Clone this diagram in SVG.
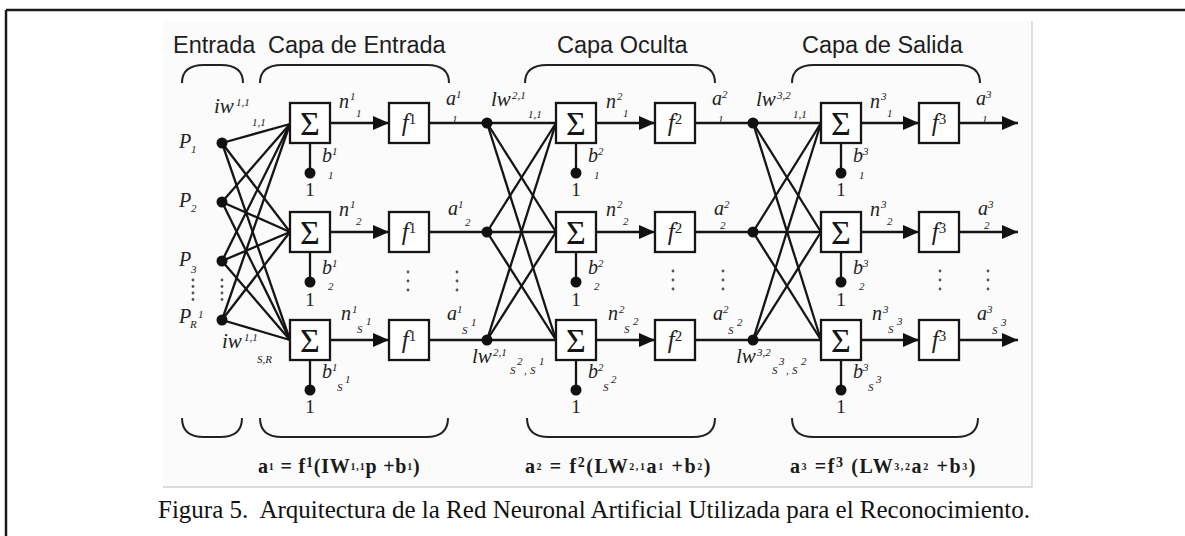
<svg xmlns="http://www.w3.org/2000/svg" width="1185" height="536" viewBox="0 0 1185 536">
<defs>
<style>
.frame{stroke:#1a1a1a;stroke-width:2.5;fill:none}
.imgb{stroke:#d2d2d2;stroke-width:1.3;fill:none}
.ln{stroke:#151515;stroke-width:2.3;fill:none}
.br{stroke:#222;stroke-width:2;fill:none}
.box{fill:#fff;stroke:#151515;stroke-width:2.3}
.dot{fill:#111}
.ed{fill:#555}
.ttl{font-family:"Liberation Sans",Arial,sans-serif;font-size:23.5px;fill:#1e1e1e}
.it{font-family:"Liberation Serif","Times New Roman",serif;font-style:italic;font-size:20px;fill:#222}
.w{font-size:21px}
.ix{font-family:"Liberation Serif","Times New Roman",serif;font-style:italic;font-size:11px;fill:#222}
.one{font-family:"Liberation Serif","Times New Roman",serif;font-size:19px;fill:#222;text-anchor:middle}
.sig{font-family:"Liberation Serif","DejaVu Serif",serif;font-size:34px;fill:#151515;text-anchor:middle}
.fn{font-family:"Liberation Serif","Times New Roman",serif;font-style:italic;font-size:25px;fill:#222;text-anchor:middle}
.fx{font-family:"Liberation Serif","Times New Roman",serif;font-weight:bold;font-size:20px;fill:#1a1a1a;white-space:pre}
.cap{font-family:"Liberation Serif","Times New Roman",serif;font-size:25px;fill:#111;white-space:pre}
</style>
<marker id="ah" markerUnits="userSpaceOnUse" markerWidth="17" markerHeight="14" refX="16" refY="7" orient="auto"><path d="M0,0 L16,7 L0,14 z" fill="#111"/></marker>
</defs>

<!-- frame -->
<g id="frame">
<line class="frame" x1="6" y1="10" x2="1185" y2="10"/>
<line class="frame" x1="6" y1="10" x2="6" y2="536"/>
<rect x="163" y="21" width="869" height="466" fill="#fbfbfb"/>
<polyline class="imgb" points="1032,21 1032,487 163,487"/>
</g>

<!-- titles -->
<g id="titles">
<text class="ttl" x="173" y="53">Entrada</text>
<text class="ttl" x="268" y="53">Capa de Entrada</text>
<text class="ttl" x="557" y="53">Capa Oculta</text>
<text class="ttl" x="802" y="53">Capa de Salida</text>
</g>

<!-- brackets -->
<g id="brackets">
<path class="br" d="M182,83 C182,72 188,65 204,65 H221 C237,65 243,72 243,83"/>
<path class="br" d="M260,83 C260,72 266,65 282,65 H427 C443,65 449,72 449,83"/>
<path class="br" d="M525,83 C525,72 531,65 547,65 H693 C709,65 715,72 715,83"/>
<path class="br" d="M792,83 C792,72 798,65 814,65 H958 C974,65 980,72 980,83"/>
<path class="br" d="M182,418 C182,429 188,437 204,437 H220 C236,437 242,429 242,418"/>
<path class="br" d="M260,418 C260,429 266,437 282,437 H426 C442,437 448,429 448,418"/>
<path class="br" d="M527,418 C527,429 533,437 549,437 H693 C709,437 715,429 715,418"/>
<path class="br" d="M792,418 C792,429 798,437 814,437 H956 C972,437 978,429 978,418"/>
</g>

<!-- connectors -->
<g id="connectors">
<line class="ln" x1="222" y1="143" x2="290" y2="124"/>
<line class="ln" x1="222" y1="143" x2="290" y2="232"/>
<line class="ln" x1="222" y1="143" x2="290" y2="340"/>
<line class="ln" x1="222" y1="202" x2="290" y2="124"/>
<line class="ln" x1="222" y1="202" x2="290" y2="232"/>
<line class="ln" x1="222" y1="202" x2="290" y2="340"/>
<line class="ln" x1="222" y1="261" x2="290" y2="124"/>
<line class="ln" x1="222" y1="261" x2="290" y2="232"/>
<line class="ln" x1="222" y1="261" x2="290" y2="340"/>
<line class="ln" x1="222" y1="320" x2="290" y2="124"/>
<line class="ln" x1="222" y1="320" x2="290" y2="232"/>
<line class="ln" x1="222" y1="320" x2="290" y2="340"/>
<line class="ln" x1="330" y1="123" x2="389" y2="123" marker-end="url(#ah)"/>
<line class="ln" x1="330" y1="232" x2="389" y2="232" marker-end="url(#ah)"/>
<line class="ln" x1="330" y1="340" x2="389" y2="340" marker-end="url(#ah)"/>
<line class="ln" x1="429" y1="123" x2="487" y2="123"/>
<line class="ln" x1="429" y1="232" x2="487" y2="232"/>
<line class="ln" x1="429" y1="340" x2="487" y2="340"/>
<line class="ln" x1="310" y1="143" x2="310" y2="173"/>
<line class="ln" x1="310" y1="252" x2="310" y2="282"/>
<line class="ln" x1="310" y1="360" x2="310" y2="390"/>
<line class="ln" x1="487" y1="123" x2="556" y2="123"/>
<line class="ln" x1="487" y1="123" x2="556" y2="232"/>
<line class="ln" x1="487" y1="123" x2="556" y2="340"/>
<line class="ln" x1="487" y1="232" x2="556" y2="123"/>
<line class="ln" x1="487" y1="232" x2="556" y2="232"/>
<line class="ln" x1="487" y1="232" x2="556" y2="340"/>
<line class="ln" x1="487" y1="340" x2="556" y2="123"/>
<line class="ln" x1="487" y1="340" x2="556" y2="232"/>
<line class="ln" x1="487" y1="340" x2="556" y2="340"/>
<line class="ln" x1="596" y1="123" x2="655" y2="123" marker-end="url(#ah)"/>
<line class="ln" x1="596" y1="232" x2="655" y2="232" marker-end="url(#ah)"/>
<line class="ln" x1="596" y1="340" x2="655" y2="340" marker-end="url(#ah)"/>
<line class="ln" x1="695" y1="123" x2="753" y2="123"/>
<line class="ln" x1="695" y1="232" x2="753" y2="232"/>
<line class="ln" x1="695" y1="340" x2="753" y2="340"/>
<line class="ln" x1="576" y1="143" x2="576" y2="173"/>
<line class="ln" x1="576" y1="252" x2="576" y2="282"/>
<line class="ln" x1="576" y1="360" x2="576" y2="390"/>
<line class="ln" x1="753" y1="123" x2="821" y2="123"/>
<line class="ln" x1="753" y1="123" x2="821" y2="232"/>
<line class="ln" x1="753" y1="123" x2="821" y2="340"/>
<line class="ln" x1="753" y1="232" x2="821" y2="123"/>
<line class="ln" x1="753" y1="232" x2="821" y2="232"/>
<line class="ln" x1="753" y1="232" x2="821" y2="340"/>
<line class="ln" x1="753" y1="340" x2="821" y2="123"/>
<line class="ln" x1="753" y1="340" x2="821" y2="232"/>
<line class="ln" x1="753" y1="340" x2="821" y2="340"/>
<line class="ln" x1="861" y1="123" x2="919" y2="123" marker-end="url(#ah)"/>
<line class="ln" x1="861" y1="232" x2="919" y2="232" marker-end="url(#ah)"/>
<line class="ln" x1="861" y1="340" x2="919" y2="340" marker-end="url(#ah)"/>
<line class="ln" x1="959" y1="123" x2="1018" y2="123" marker-end="url(#ah)"/>
<line class="ln" x1="959" y1="232" x2="1018" y2="232" marker-end="url(#ah)"/>
<line class="ln" x1="959" y1="340" x2="1018" y2="340" marker-end="url(#ah)"/>
<line class="ln" x1="841" y1="143" x2="841" y2="173"/>
<line class="ln" x1="841" y1="252" x2="841" y2="282"/>
<line class="ln" x1="841" y1="360" x2="841" y2="390"/>
</g>

<!-- weight labels -->
<g id="weights">
<text class="it w" x="214" y="113">iw</text><text class="ix" x="236" y="106">1,1</text><text class="ix" x="252" y="126">1,1</text>
<text class="it w" x="222" y="348">iw</text><text class="ix" x="244" y="341">1,1</text><text class="ix" x="257" y="363">S,R</text>
<text class="it w" x="491" y="106">lw</text><text class="ix" x="512" y="99">2,1</text><text class="ix" x="528" y="118">1,1</text>
<text class="it w" x="472" y="363">lw</text><text class="ix" x="493" y="356">2,1</text><text class="ix" x="510" y="374">S</text><text class="ix" x="517" y="365">2</text><text class="ix" x="524" y="374">,</text><text class="ix" x="530" y="374">S</text><text class="ix" x="539" y="365">1</text>
<text class="it w" x="756" y="106">lw</text><text class="ix" x="777" y="99">3,2</text><text class="ix" x="793" y="118">1,1</text>
<text class="it w" x="736" y="363">lw</text><text class="ix" x="757" y="356">3,2</text><text class="ix" x="772" y="374">S</text><text class="ix" x="779" y="365">3</text><text class="ix" x="786" y="374">,</text><text class="ix" x="792" y="374">S</text><text class="ix" x="801" y="365">2</text>
</g>

<!-- inputs -->
<g id="input-p1"><circle class="dot" cx="222" cy="143" r="5.5"/><text class="it" x="179" y="148">P</text><text class="ix" x="191" y="153">1</text></g>
<g id="input-p2"><circle class="dot" cx="222" cy="202" r="5.5"/><text class="it" x="179" y="207">P</text><text class="ix" x="191" y="212">2</text></g>
<g id="input-p3"><circle class="dot" cx="222" cy="261" r="5.5"/><text class="it" x="179" y="266">P</text><text class="ix" x="191" y="273">3</text></g>
<g id="input-pR"><circle class="dot" cx="222" cy="320" r="5.5"/><text class="it" x="179" y="323">P</text><text class="ix" x="190" y="328">R</text><text class="ix" x="198" y="318">1</text></g>

<!-- ellipses -->
<g id="ellipses">
<circle class="ed" cx="193" cy="280" r="1.4"/><circle class="ed" cx="193" cy="286.5" r="1.4"/><circle class="ed" cx="193" cy="293" r="1.4"/><circle class="ed" cx="193" cy="299.5" r="1.4"/>
<circle class="ed" cx="222" cy="280" r="1.4"/><circle class="ed" cx="222" cy="286.5" r="1.4"/><circle class="ed" cx="222" cy="293" r="1.4"/><circle class="ed" cx="222" cy="299.5" r="1.4"/>
<circle class="ed" cx="408" cy="272" r="1.4"/><circle class="ed" cx="408" cy="281" r="1.4"/><circle class="ed" cx="408" cy="290" r="1.4"/>
<circle class="ed" cx="457" cy="272" r="1.4"/><circle class="ed" cx="457" cy="281" r="1.4"/><circle class="ed" cx="457" cy="290" r="1.4"/>
<circle class="ed" cx="673" cy="271" r="1.4"/><circle class="ed" cx="673" cy="280" r="1.4"/><circle class="ed" cx="673" cy="289" r="1.4"/>
<circle class="ed" cx="723" cy="271" r="1.4"/><circle class="ed" cx="723" cy="280" r="1.4"/><circle class="ed" cx="723" cy="289" r="1.4"/>
<circle class="ed" cx="940" cy="271" r="1.4"/><circle class="ed" cx="940" cy="280" r="1.4"/><circle class="ed" cx="940" cy="289" r="1.4"/>
<circle class="ed" cx="988" cy="271" r="1.4"/><circle class="ed" cx="988" cy="280" r="1.4"/><circle class="ed" cx="988" cy="289" r="1.4"/>
</g>

<!-- layer 1 -->
<g id="sum1-1"><rect class="box" x="290" y="103" width="40" height="40"/><text class="sig" x="310" y="135">Σ</text>
<text class="it" x="339" y="108">n</text><text class="ix" x="350" y="100">1</text><text class="ix" x="356" y="117">1</text></g>
<g id="sum1-2"><rect class="box" x="290" y="212" width="40" height="40"/><text class="sig" x="310" y="244">Σ</text>
<text class="it" x="339" y="216">n</text><text class="ix" x="350" y="208">1</text><text class="ix" x="356" y="225">2</text></g>
<g id="sum1-3"><rect class="box" x="290" y="320" width="40" height="40"/><text class="sig" x="310" y="352">Σ</text>
<text class="it" x="341" y="320">n</text><text class="ix" x="352" y="313">1</text><text class="ix" x="357" y="333">S</text><text class="ix" x="366" y="325">1</text></g>
<g id="bias1-1"><circle class="dot" cx="310" cy="173" r="5.5"/><text class="one" x="310" y="196">1</text>
<text class="it" x="322" y="162">b</text><text class="ix" x="332" y="155">1</text><text class="ix" x="328" y="179">1</text></g>
<g id="bias1-2"><circle class="dot" cx="310" cy="282" r="5.5"/><text class="one" x="310" y="306">1</text>
<text class="it" x="322" y="274">b</text><text class="ix" x="332" y="267">1</text><text class="ix" x="328" y="290">2</text></g>
<g id="bias1-3"><circle class="dot" cx="310" cy="390" r="5.5"/><text class="one" x="310" y="413">1</text>
<text class="it" x="322" y="378">b</text><text class="ix" x="332" y="371">1</text><text class="ix" x="337" y="391">S</text><text class="ix" x="345" y="383">1</text></g>
<g id="f1-1"><rect class="box" x="389" y="103" width="40" height="40"/><text class="fn" x="409" y="131">f<tspan font-size="15" font-style="normal" dy="-7">1</tspan></text>
<text class="it" x="446" y="105">a</text><text class="ix" x="456" y="98">1</text><text class="ix" x="452" y="123">1</text></g>
<g id="f1-2"><rect class="box" x="389" y="212" width="40" height="40"/><text class="fn" x="409" y="240">f<tspan font-size="15" font-style="normal" dy="-7">1</tspan></text>
<text class="it" x="448" y="215">a</text><text class="ix" x="458" y="208">1</text><text class="ix" x="465" y="226">2</text></g>
<g id="f1-3"><rect class="box" x="389" y="320" width="40" height="40"/><text class="fn" x="409" y="348">f<tspan font-size="15" font-style="normal" dy="-7">1</tspan></text>
<text class="it" x="447" y="320">a</text><text class="ix" x="457" y="313">1</text><text class="ix" x="462" y="334">S</text><text class="ix" x="471" y="326">1</text></g>

<!-- layer 2 nodes -->
<g id="in2-1"><circle class="dot" cx="487" cy="123" r="5.5"/></g>
<g id="in2-2"><circle class="dot" cx="487" cy="232" r="5.5"/></g>
<g id="in2-3"><circle class="dot" cx="487" cy="340" r="5.5"/></g>
<g id="sum2-1"><rect class="box" x="556" y="103" width="40" height="40"/><text class="sig" x="576" y="135">Σ</text>
<text class="it" x="606" y="108">n</text><text class="ix" x="617" y="100">2</text><text class="ix" x="623" y="117">1</text></g>
<g id="sum2-2"><rect class="box" x="556" y="212" width="40" height="40"/><text class="sig" x="576" y="244">Σ</text>
<text class="it" x="606" y="216">n</text><text class="ix" x="617" y="208">2</text><text class="ix" x="623" y="225">2</text></g>
<g id="sum2-3"><rect class="box" x="556" y="320" width="40" height="40"/><text class="sig" x="576" y="352">Σ</text>
<text class="it" x="608" y="320">n</text><text class="ix" x="619" y="313">2</text><text class="ix" x="624" y="333">S</text><text class="ix" x="633" y="325">2</text></g>
<g id="bias2-1"><circle class="dot" cx="576" cy="173" r="5.5"/><text class="one" x="576" y="196">1</text>
<text class="it" x="588" y="162">b</text><text class="ix" x="598" y="155">2</text><text class="ix" x="594" y="179">1</text></g>
<g id="bias2-2"><circle class="dot" cx="576" cy="282" r="5.5"/><text class="one" x="576" y="306">1</text>
<text class="it" x="588" y="274">b</text><text class="ix" x="598" y="267">2</text><text class="ix" x="594" y="290">2</text></g>
<g id="bias2-3"><circle class="dot" cx="576" cy="390" r="5.5"/><text class="one" x="576" y="413">1</text>
<text class="it" x="588" y="378">b</text><text class="ix" x="598" y="371">2</text><text class="ix" x="603" y="391">S</text><text class="ix" x="611" y="383">2</text></g>
<g id="f2-1"><rect class="box" x="655" y="103" width="40" height="40"/><text class="fn" x="675" y="131">f<tspan font-size="15" font-style="normal" dy="-7">2</tspan></text>
<text class="it" x="712" y="105">a</text><text class="ix" x="722" y="98">2</text><text class="ix" x="718" y="123">1</text></g>
<g id="f2-2"><rect class="box" x="655" y="212" width="40" height="40"/><text class="fn" x="675" y="240">f<tspan font-size="15" font-style="normal" dy="-7">2</tspan></text>
<text class="it" x="714" y="215">a</text><text class="ix" x="724" y="208">2</text><text class="ix" x="720" y="229">2</text></g>
<g id="f2-3"><rect class="box" x="655" y="320" width="40" height="40"/><text class="fn" x="675" y="348">f<tspan font-size="15" font-style="normal" dy="-7">2</tspan></text>
<text class="it" x="713" y="320">a</text><text class="ix" x="723" y="313">2</text><text class="ix" x="728" y="334">S</text><text class="ix" x="737" y="326">2</text></g>

<!-- layer 3 nodes -->
<g id="in3-1"><circle class="dot" cx="753" cy="123" r="5.5"/></g>
<g id="in3-2"><circle class="dot" cx="753" cy="232" r="5.5"/></g>
<g id="in3-3"><circle class="dot" cx="753" cy="340" r="5.5"/></g>
<g id="sum3-1"><rect class="box" x="821" y="103" width="40" height="40"/><text class="sig" x="841" y="135">Σ</text>
<text class="it" x="870" y="108">n</text><text class="ix" x="881" y="100">3</text><text class="ix" x="887" y="117">1</text></g>
<g id="sum3-2"><rect class="box" x="821" y="212" width="40" height="40"/><text class="sig" x="841" y="244">Σ</text>
<text class="it" x="870" y="216">n</text><text class="ix" x="881" y="208">3</text><text class="ix" x="887" y="225">2</text></g>
<g id="sum3-3"><rect class="box" x="821" y="320" width="40" height="40"/><text class="sig" x="841" y="352">Σ</text>
<text class="it" x="872" y="320">n</text><text class="ix" x="883" y="313">3</text><text class="ix" x="888" y="333">S</text><text class="ix" x="897" y="325">3</text></g>
<g id="bias3-1"><circle class="dot" cx="841" cy="173" r="5.5"/><text class="one" x="841" y="196">1</text>
<text class="it" x="853" y="162">b</text><text class="ix" x="863" y="155">3</text><text class="ix" x="859" y="179">1</text></g>
<g id="bias3-2"><circle class="dot" cx="841" cy="282" r="5.5"/><text class="one" x="841" y="306">1</text>
<text class="it" x="853" y="274">b</text><text class="ix" x="863" y="267">3</text><text class="ix" x="859" y="290">2</text></g>
<g id="bias3-3"><circle class="dot" cx="841" cy="390" r="5.5"/><text class="one" x="841" y="413">1</text>
<text class="it" x="853" y="378">b</text><text class="ix" x="863" y="371">3</text><text class="ix" x="868" y="391">S</text><text class="ix" x="876" y="383">3</text></g>
<g id="f3-1"><rect class="box" x="919" y="103" width="40" height="40"/><text class="fn" x="939" y="131">f<tspan font-size="15" font-style="normal" dy="-7">3</tspan></text>
<text class="it" x="976" y="105">a</text><text class="ix" x="986" y="98">3</text><text class="ix" x="982" y="123">1</text></g>
<g id="f3-2"><rect class="box" x="919" y="212" width="40" height="40"/><text class="fn" x="939" y="240">f<tspan font-size="15" font-style="normal" dy="-7">3</tspan></text>
<text class="it" x="978" y="215">a</text><text class="ix" x="988" y="208">3</text><text class="ix" x="984" y="229">2</text></g>
<g id="f3-3"><rect class="box" x="919" y="320" width="40" height="40"/><text class="fn" x="939" y="348">f<tspan font-size="15" font-style="normal" dy="-7">3</tspan></text>
<text class="it" x="977" y="320">a</text><text class="ix" x="987" y="313">3</text><text class="ix" x="992" y="334">S</text><text class="ix" x="1001" y="326">3</text></g>

<!-- formulas -->
<g id="formulas">
<text class="fx" x="258" y="473" letter-spacing="0.8">a<tspan font-size="10" dy="-3">1</tspan><tspan dy="3"> = f</tspan><tspan font-size="14" dy="-6">1</tspan><tspan dy="6">(IW</tspan><tspan font-size="10" dy="-3">1,1</tspan><tspan dy="3">p +b</tspan><tspan font-size="10" dy="-3">1</tspan><tspan dy="3">)</tspan></text>
<text class="fx" x="525" y="473" letter-spacing="1.6">a<tspan font-size="10" dy="-3">2</tspan><tspan dy="3"> = f</tspan><tspan font-size="14" dy="-6">2</tspan><tspan dy="6">(LW</tspan><tspan font-size="10" dy="-3">2,1</tspan><tspan dy="3">a</tspan><tspan font-size="10" dy="-3">1</tspan><tspan dy="3"> +b</tspan><tspan font-size="10" dy="-3">2</tspan><tspan dy="3">)</tspan></text>
<text class="fx" x="790" y="473" letter-spacing="1.6">a<tspan font-size="10" dy="-3">3</tspan><tspan dy="3"> =f</tspan><tspan font-size="14" dy="-6">3</tspan><tspan dy="6"> (LW</tspan><tspan font-size="10" dy="-3">3,2</tspan><tspan dy="3">a</tspan><tspan font-size="10" dy="-3">2</tspan><tspan dy="3"> +b</tspan><tspan font-size="10" dy="-3">3</tspan><tspan dy="3">)</tspan></text>
</g>

<!-- caption -->
<text class="cap" x="158" y="518">Figura 5.  Arquitectura de la Red Neuronal Artificial Utilizada para el Reconocimiento.</text>
</svg>
